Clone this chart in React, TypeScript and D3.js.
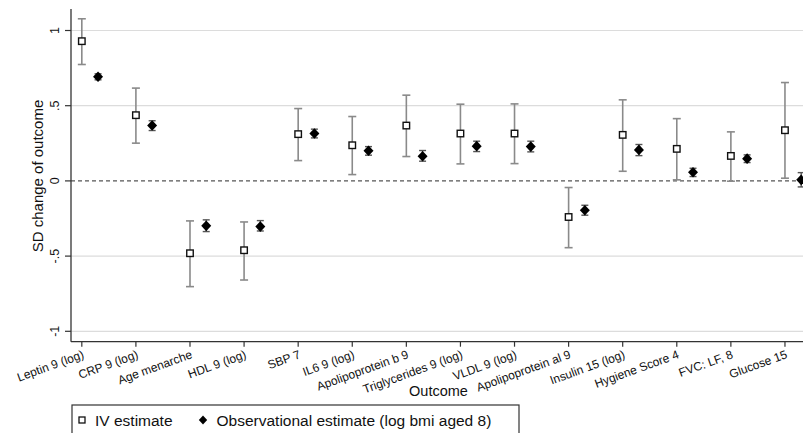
import React from "react";
import * as d3 from "d3";

const categories = [
  "Leptin 9 (log)", "CRP 9 (log)", "Age menarche", "HDL 9 (log)", "SBP 7",
  "IL6 9 (log)", "Apolipoprotein b 9", "Triglycerides 9 (log)", "VLDL 9 (log)",
  "Apolipoprotein al 9", "Insulin 15 (log)", "Hygiene Score 4", "FVC: LF, 8", "Glucose 15",
];
const ivEst = [0.929, 0.437, -0.481, -0.461, 0.311, 0.237, 0.368, 0.315, 0.315, -0.240, 0.306, 0.213, 0.166, 0.337];
const ivLo = [0.774, 0.251, -0.703, -0.659, 0.135, 0.042, 0.162, 0.113, 0.115, -0.444, 0.064, 0.007, -0.002, 0.018];
const ivHi = [1.078, 0.617, -0.266, -0.273, 0.481, 0.428, 0.570, 0.510, 0.512, -0.044, 0.539, 0.414, 0.326, 0.654];
const obsEst = [0.692, 0.368, -0.299, -0.304, 0.315, 0.200, 0.164, 0.231, 0.228, -0.195, 0.206, 0.058, 0.148, 0.007];
const obsLo = [0.672, 0.335, -0.337, -0.333, 0.286, 0.171, 0.131, 0.195, 0.193, -0.228, 0.168, 0.029, 0.122, -0.040];
const obsHi = [0.712, 0.400, -0.259, -0.264, 0.344, 0.228, 0.202, 0.264, 0.264, -0.162, 0.242, 0.084, 0.173, 0.055];
const yTicks = [1, 0.5, 0, -0.5, -1];
const yTickLabels = ["1", ".5", "0", "-.5", "-1"];

const FONT = "'Liberation Sans', Arial, Helvetica, sans-serif";

const diamondD = (hw: number, hh: number) => `M0,${-hh}L${hw},0L0,${hh}L${-hw},0Z`;

export default function App() {
  const W = 803, H = 433;
  const x = d3.scaleLinear().domain([0.8, 14.4]).range([71, 806.6]);
  const y = d3.scaleLinear().domain([-1, 1]).range([331.3, 30.5]);
  const axisX = 71;
  const axisBottom = 341.7;
  const obsOff = 0.3;
  const sq = 6.5;
  const diamond = diamondD(5, 5.3);

  return (
    <svg width={W} height={H} style={{ position: "absolute", left: 0, top: 0, background: "#fff" }} fontFamily={FONT}>
      <rect x={0} y={0} width={W} height={H} fill="#fff" />
      {/* gridlines */}
      {yTicks.filter((t) => t !== 0).map((t) => (
        <line key={"g" + t} x1={axisX} x2={W} y1={y(t)} y2={y(t)} stroke="#dcdcdc" strokeWidth={1.2} />
      ))}
      <line x1={axisX} x2={W} y1={y(0)} y2={y(0)} stroke="#555" strokeWidth={1.2} strokeDasharray="4,3" />
      {/* y axis */}
      <line x1={axisX} x2={axisX} y1={9} y2={axisBottom} stroke="#333" strokeWidth={1.3} />
      {yTicks.map((t, i) => (
        <g key={"yt" + t}>
          <line x1={axisX - 6} x2={axisX} y1={y(t)} y2={y(t)} stroke="#333" strokeWidth={1.2} />
          <text transform={`translate(${59},${y(t)}) rotate(-90)`} textAnchor="middle" fontSize={12.5} fill="#111">
            {yTickLabels[i]}
          </text>
        </g>
      ))}
      <text transform={`translate(43,176) rotate(-90)`} textAnchor="middle" fontSize={15} fill="#111">
        SD change of outcome
      </text>
      {/* x axis */}
      <line x1={axisX} x2={W} y1={axisBottom} y2={axisBottom} stroke="#333" strokeWidth={1.3} />
      {categories.map((c, i) => {
        const cx = x(i + 1);
        return (
          <g key={"xt" + i}>
            <line x1={cx} x2={cx} y1={axisBottom} y2={axisBottom + 5} stroke="#333" strokeWidth={1.2} />
            <text transform={`translate(${cx + 3},${axisBottom + 16}) rotate(-20)`} textAnchor="end" fontSize={12} fill="#111">
              {c}
            </text>
          </g>
        );
      })}
      <text x={438.5} y={396} textAnchor="middle" fontSize={14.5} fill="#111">Outcome</text>
      {/* IV estimates */}
      {categories.map((c, i) => {
        const cx = x(i + 1);
        return (
          <g key={"iv" + i}>
            <line x1={cx} x2={cx} y1={y(ivLo[i])} y2={y(ivHi[i])} stroke="#8a8a8a" strokeWidth={1.6} />
            <line x1={cx - 4} x2={cx + 4} y1={y(ivLo[i])} y2={y(ivLo[i])} stroke="#8a8a8a" strokeWidth={1.6} />
            <line x1={cx - 4} x2={cx + 4} y1={y(ivHi[i])} y2={y(ivHi[i])} stroke="#8a8a8a" strokeWidth={1.6} />
            <rect x={cx - sq / 2} y={y(ivEst[i]) - sq / 2} width={sq} height={sq} fill="#fff" stroke="#111" strokeWidth={1.4} />
          </g>
        );
      })}
      {/* Observational estimates */}
      {categories.map((c, i) => {
        const cx = x(i + 1 + obsOff);
        return (
          <g key={"ob" + i}>
            <line x1={cx} x2={cx} y1={y(obsLo[i])} y2={y(obsHi[i])} stroke="#555" strokeWidth={1.4} />
            <line x1={cx - 3.5} x2={cx + 3.5} y1={y(obsLo[i])} y2={y(obsLo[i])} stroke="#555" strokeWidth={1.4} />
            <line x1={cx - 3.5} x2={cx + 3.5} y1={y(obsHi[i])} y2={y(obsHi[i])} stroke="#555" strokeWidth={1.4} />
            <path d={diamond} transform={`translate(${cx},${y(obsEst[i])})`} fill="#000" />
          </g>
        );
      })}
      {/* legend */}
      <rect x={72} y={405} width={447} height={40} fill="#fff" stroke="#333" strokeWidth={1.2} />
      <rect x={79} y={417} width={6} height={6} fill="#fff" stroke="#111" strokeWidth={1.3} />
      <text x={95} y={426} fontSize={15.5} fill="#111">IV estimate</text>
      <path d={diamondD(4.2, 4.5)} transform={`translate(203,420)`} fill="#000" />
      <text x={216.5} y={426} fontSize={15.5} fill="#111">Observational estimate (log bmi aged 8)</text>
    </svg>
  );
}
